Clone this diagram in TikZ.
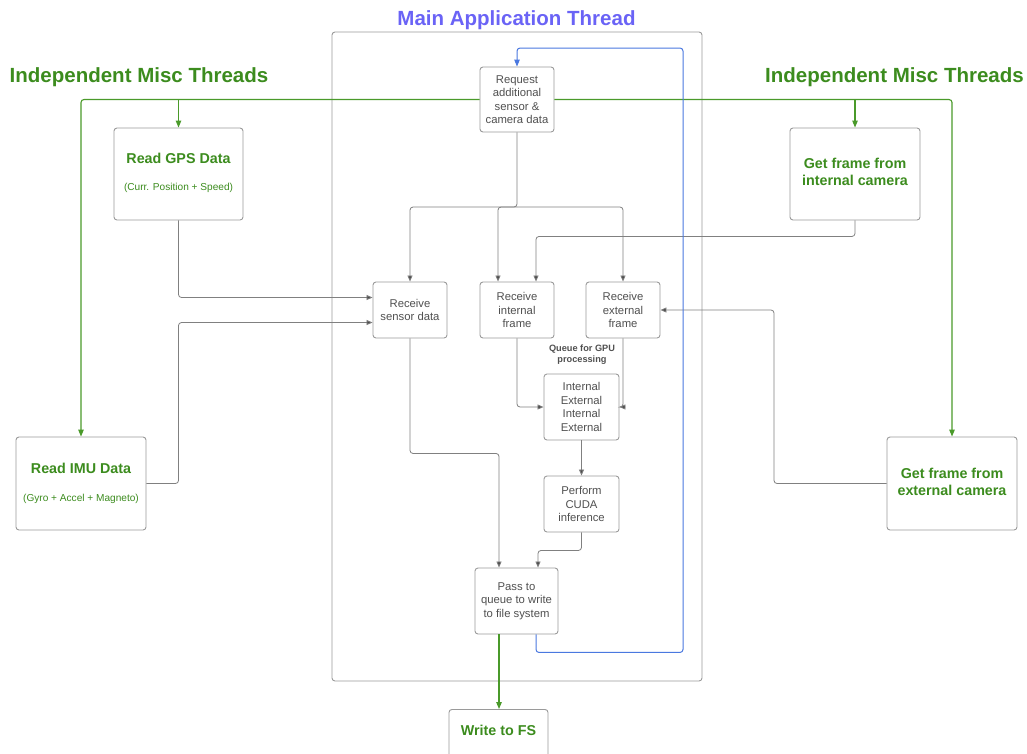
\documentclass[tikz,border=0pt]{standalone}
\usepackage{fontspec}
\setmainfont{Liberation Sans}
\usetikzlibrary{arrows.meta}
\definecolor{gr}{HTML}{3C8C1E}
\definecolor{gl}{HTML}{4A9A2A}
\definecolor{tb}{HTML}{6A63F6}
\definecolor{bl}{HTML}{4A78E0}
\definecolor{bd}{HTML}{9A9A9A}
\definecolor{ln}{HTML}{808080}
\definecolor{tx}{HTML}{505050}
\definecolor{tipc}{HTML}{4A4A4A}
\begin{document}
\begin{tikzpicture}[x=1pt,y=-1pt,
 box/.style={draw=bd, fill=white, rounded corners=3pt, line width=0.9pt, inner sep=0pt, align=center, text=tx, font=\fontsize{11.3}{13.5}\selectfont},
 gtitle/.style={text=gr, font=\bfseries\fontsize{14.3}{17.3}\selectfont, align=center, inner sep=0pt},
 gsub/.style={text=gr, font=\fontsize{10.1}{12}\selectfont, inner sep=0pt},
 bigtitle/.style={font=\bfseries\fontsize{20.5}{24}\selectfont, inner sep=0pt},
 arr/.style={draw=ln, line width=0.8pt, rounded corners=3pt, -{Triangle[length=6pt,width=5pt,fill=tipc]}},
 garr/.style={draw=gl, line width=1.1pt, rounded corners=3pt, -{Triangle[length=7pt,width=5.5pt]}},
 barr/.style={draw=bl, line width=1pt, rounded corners=3pt, -{Triangle[length=7pt,width=5.5pt]}},
 container/.style={draw=bd, line width=0.9pt, rounded corners=3pt}
]
\clip (0,0) rectangle (1027,753);
\fill[white] (0,0) rectangle (1027,753);

% titles
\node[bigtitle, text=tb] (maintitle) at (516.5,20) {Main Application Thread};
\node[bigtitle, text=gr] (lefttitle) at (139,77) {Independent Misc Threads};
\node[bigtitle, text=gr] (righttitle) at (894.5,77) {Independent Misc Threads};

% main container
\draw[container] (332,32) rectangle (702,681);

% nodes
\node[box, minimum width=74pt, minimum height=65pt] (req) at (517,99.5) {Request\\additional\\sensor \&\\camera data};
\node[box, minimum width=129pt, minimum height=92pt] (gps) at (178.5,174) {};
\node[gtitle] (gpst) at (178.5,158) {Read GPS Data};
\node[gsub] (gpss) at (178.5,188) {(Curr. Position + Speed)};
\node[box, minimum width=130pt, minimum height=92pt] (intcam) at (855,174) {};
\node[gtitle] (intcamt) at (855,172) {Get frame from\\internal camera};
\node[box, minimum width=130pt, minimum height=93pt] (imu) at (81,483.5) {};
\node[gtitle] (imut) at (81,468) {Read IMU Data};
\node[gsub] (imus) at (81,498.5) {(Gyro + Accel + Magneto)};
\node[box, minimum width=130pt, minimum height=93pt] (extcam) at (952,483.5) {};
\node[gtitle] (extcamt) at (952,482) {Get frame from\\external camera};

\node[box, minimum width=74pt, minimum height=56pt] (rs) at (410,310) {Receive\\sensor data};
\node[box, minimum width=74pt, minimum height=56pt] (ri) at (517,310) {Receive\\internal\\frame};
\node[box, minimum width=74pt, minimum height=56pt] (re) at (623,310) {Receive\\external\\frame};
\node[text=tx, font=\bfseries\fontsize{9.2}{11.5}\selectfont, align=center, inner sep=0pt] (qlabel) at (582,354.5) {Queue for GPU\\processing};
\node[box, minimum width=75pt, minimum height=66pt] (q) at (581.5,407) {Internal\\External\\Internal\\External};
\node[box, minimum width=75pt, minimum height=56pt] (cuda) at (581.5,504) {Perform\\CUDA\\inference};
\node[box, minimum width=83pt, minimum height=66pt] (pass) at (516.5,601) {Pass to\\queue to write\\to file system};
\node[box, minimum width=99pt, minimum height=60pt, anchor=north] (fs) at (498.5,709) {};
\node[gtitle] (fst) at (498.5,730) {Write to FS};

% green distribution lines
\draw[garr] (req.west) -| (imu.north);
\draw[garr] (req.west -| gps.north) -- (gps.north);
\draw[garr] (req.east) -| (extcam.north);
\draw[garr] (req.east -| intcam.north) -- (intcam.north);

% gray connectors
\coordinate (split) at (517,207);
\draw[arr] (req.south) -- (split) -| (rs.north);
\draw[arr] (split) -| ([xshift=-19pt]ri.north);
\draw[arr] (split) -| (re.north);
\draw[arr] (gps.south) |- ([yshift=12.5pt]rs.west);
\draw[arr] (imu.east) -- (imu.east -| gps.south) |- ([yshift=-12.5pt]rs.west);
\draw[arr] (intcam.south) -- ++(0,16) -| ([xshift=19pt]ri.north);
\draw[arr] (extcam.west) -- (774,483.5) |- (re.east);
\draw[arr] (ri.south) |- (q.west);
\draw[arr] (re.south) |- (q.east);
\draw[arr] (q.south) -- (cuda.north);
\draw[arr] (cuda.south) -- ++(0,18) -| ([xshift=21.5pt]pass.north);
\draw[arr] (rs.south) -- ++(0,115) -| ([xshift=-17.5pt]pass.north);

% blue loop
\coordinate (loopcorner) at (683,48);
\draw[barr] ([xshift=19.5pt]pass.south) -- ++(0,18) -| (loopcorner) -| (req.north);

% green to file system
\draw[garr] ([xshift=-17.5pt]pass.south) -- ([xshift=-17.5pt]pass.south |- fs.north);
\end{tikzpicture}
\end{document}
